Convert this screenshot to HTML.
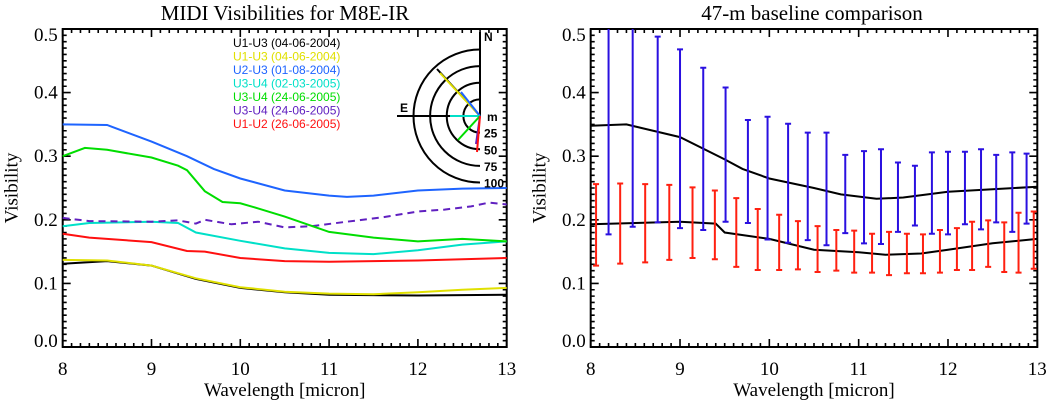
<!DOCTYPE html>
<html><head><meta charset="utf-8"><style>
html,body{margin:0;padding:0;background:#fff;}
svg{display:block;font-family:"Liberation Serif",serif;}
.lg{font-family:"Liberation Sans",sans-serif;font-size:12px;}
</style></head><body>
<svg id="c" width="1051" height="403" viewBox="0 0 1051 403" xmlns="http://www.w3.org/2000/svg">
<text x="285" y="20" font-size="21" text-anchor="middle">MIDI Visibilities for M8E-IR</text>
<text x="812" y="20" font-size="21" text-anchor="middle">47-m baseline comparison</text>
<g id="L"></g>
<g id="R"></g>
</svg>
<script>
// ---- Left panel data (wavelength in micron, visibility) ----
const blueW=[8,8.5,9,9.4,9.7,10,10.5,11,11.2,11.5,12,12.5,13];
const blueV=[0.35,0.349,0.323,0.3,0.28,0.265,0.246,0.238,0.236,0.238,0.246,0.249,0.25];
const greenW=[8,8.25,8.5,9,9.3,9.4,9.6,9.8,10,10.2,10.5,11,11.5,12,12.5,13];
const greenV=[0.30,0.313,0.31,0.298,0.285,0.278,0.245,0.228,0.226,0.218,0.205,0.181,0.172,0.166,0.17,0.166];
const purpW=[8,8.3,9,9.3,9.5,9.6,9.9,10.2,10.5,10.8,11.2,11.6,12,12.3,12.6,12.8,13];
const purpV=[0.203,0.198,0.197,0.199,0.194,0.2,0.193,0.197,0.188,0.19,0.197,0.204,0.213,0.216,0.221,0.227,0.224];
const cyanW=[8,8.3,9,9.3,9.5,10,10.5,11,11.5,12,12.5,13];
const cyanV=[0.19,0.195,0.197,0.195,0.18,0.167,0.155,0.148,0.146,0.152,0.161,0.166];
const redW=[8,8.3,9,9.4,9.6,10,10.5,11,12,13];
const redV=[0.178,0.172,0.165,0.151,0.15,0.14,0.135,0.134,0.136,0.14];
const yelW=[8,8.5,9,9.5,10,10.5,11,11.5,12,12.5,13];
const yelV=[0.137,0.136,0.128,0.108,0.094,0.087,0.084,0.083,0.086,0.09,0.093];
const blkW=[8,8.5,9,9.5,10,10.5,11,12,13];
const blkV=[0.131,0.135,0.128,0.107,0.093,0.086,0.082,0.081,0.082];
// ---- Right panel data ----
const upW=[8,8.4,9,9.5,9.7,10,10.5,10.8,11.2,11.5,12,12.5,13];
const upV=[0.348,0.35,0.33,0.295,0.28,0.265,0.25,0.24,0.233,0.235,0.244,0.248,0.252];
const loW=[8,9,9.4,9.5,10,10.5,11,11.3,11.7,12,12.5,13];
const loV=[0.193,0.197,0.194,0.18,0.17,0.153,0.149,0.145,0.147,0.153,0.163,0.17];
const ebBlueW=[8.2,8.47,8.75,9.0,9.26,9.51,9.76,9.98,10.21,10.43,10.64,10.85,11.06,11.25,11.44,11.63,11.82,12.0,12.19,12.37,12.54,12.72,12.88];
const ebBlueHi=[0.53,0.52,0.488,0.468,0.439,0.408,0.357,0.362,0.351,0.337,0.337,0.302,0.308,0.311,0.290,0.285,0.306,0.307,0.307,0.311,0.302,0.306,0.304];
const ebBlueLo=[0.177,0.189,0.196,0.187,0.184,0.197,0.195,0.169,0.164,0.168,0.160,0.179,0.163,0.162,0.181,0.191,0.178,0.177,0.193,0.185,0.196,0.181,0.194];
const ebRedW=[8.06,8.33,8.61,8.88,9.14,9.39,9.63,9.87,10.11,10.32,10.54,10.75,10.95,11.15,11.34,11.54,11.72,11.91,12.10,12.27,12.45,12.63,12.79,12.96];
const ebRedHi=[0.256,0.257,0.256,0.255,0.251,0.246,0.234,0.217,0.208,0.198,0.190,0.184,0.183,0.178,0.181,0.178,0.177,0.184,0.187,0.197,0.199,0.196,0.211,0.213];
const ebRedLo=[0.128,0.131,0.133,0.137,0.140,0.138,0.126,0.121,0.121,0.122,0.118,0.120,0.117,0.117,0.113,0.116,0.116,0.117,0.121,0.121,0.126,0.118,0.117,0.123];
const xTicks=["8","9","10","11","12","13"];
const yTicks=["0.0","0.1","0.2","0.3","0.4","0.5"];
const legendText=["U1-U3 (04-06-2004)","U1-U3 (04-06-2004)","U2-U3 (01-08-2004)","U3-U4 (02-03-2005)","U3-U4 (24-06-2005)","U3-U4 (24-06-2005)","U1-U2 (26-06-2005)"];
const legendColor=["#000","#e0e000","#1e64ff","#00e0c8","#00dd00","#6020c0","#ff1010"];
const ringLabels=["25","50","75","100"];

const NS="http://www.w3.org/2000/svg";
function mk(parent,tag,attrs){const e=document.createElementNS(NS,tag);for(const k in attrs)e.setAttribute(k,attrs[k]);parent.appendChild(e);return e;}
const Y0=347,Y1=29;
function axes(g,x0,x1){
  const sx=w=>x0+(w-8)/5*(x1-x0);
  const sy=v=>Y0-v/0.5*(Y0-Y1);
  let d="";
  for(let i=0;i<=50;i++){const x=sx(8+i*0.1);const L=i%10==0?8:4;d+=`M${x},${Y0}v${-L}M${x},${Y1}v${L}`;}
  for(let i=0;i<=50;i++){const y=sy(i*0.01);const L=i%10==0?8:4;d+=`M${x0},${y}h${L}M${x1},${y}h${-L}`;}
  const t=mk(g,"path",{d:d,stroke:"#000","stroke-width":1.6,fill:"none"});
  
  
  const b=mk(g,"rect",{x:x0,y:Y1,width:x1-x0,height:Y0-Y1,fill:"none",stroke:"#000","stroke-width":2});
  
  
  xTicks.forEach((s,i)=>{const e=mk(g,"text",{x:sx(+s),y:375,"font-size":19,"text-anchor":"middle"});e.textContent=s;
    
    });
  yTicks.forEach((s,i)=>{let y=sy(+s)+6;if(i==0)y=Y0;if(i==5)y=Y1+12;const e=mk(g,"text",{x:x0-5,y:y,"font-size":19,"text-anchor":"end"});e.textContent=s;
    
    });
  const xt=mk(g,"text",{x:(x0+x1)/2,y:396,"font-size":19,"text-anchor":"middle"});xt.textContent="Wavelength [micron]";
  
  
  const yt=mk(g,"text",{x:0,y:0,"font-size":19,"text-anchor":"middle",transform:`translate(${x0-45},188) rotate(-90)`});yt.textContent="Visibility";
  
  
  return [sx,sy];
}
function line(g,sx,sy,W,V,col,name,dash){
  const d=W.map((w,i)=>(i?"L":"M")+sx(w).toFixed(1)+","+sy(V[i]).toFixed(1)).join("");
  const p=mk(g,"path",{d:d,stroke:col,"stroke-width":2,fill:"none"});
  if(dash)p.setAttribute("stroke-dasharray",dash);
  
  
}
const L=document.getElementById("L"),R=document.getElementById("R");
let [sx,sy]=axes(L,62.7,506.7);
line(L,sx,sy,blkW,blkV,"#000","series-u1u3-black");
line(L,sx,sy,yelW,yelV,"#e0e000","series-u1u3-yellow");
line(L,sx,sy,redW,redV,"#ff1010","series-u1u2");
line(L,sx,sy,cyanW,cyanV,"#00e0c8","series-u3u4-cyan");
line(L,sx,sy,purpW,purpV,"#6020c0","series-u3u4-purple","7,5");
line(L,sx,sy,greenW,greenV,"#00dd00","series-u3u4-green");
line(L,sx,sy,blueW,blueV,"#1e64ff","series-u2u3");
legendText.forEach((s,i)=>{const e=mk(L,"text",{x:233,y:47+i*13.5,fill:legendColor[i],class:"lg"});e.textContent=s;
  
  });
// polar inset
const cx=480,cy=116,pr=0.665;
const pg=mk(L,"g",{});


ringLabels.forEach((s,i)=>{const r=(+s)*pr;
  const a=mk(pg,"path",{d:`M${cx},${cy-r}A${r},${r} 0 0 0 ${cx},${cy+r}`,stroke:"#000","stroke-width":2,fill:"none"});
  
  
  const t=mk(pg,"text",{x:cx+4,y:cy+r+5,class:"lg","font-weight":"bold"});t.textContent=s;
  
  });
mk(pg,"path",{d:`M${cx},${cy}V32M${cx},${cy}H397`,stroke:"#000","stroke-width":2,fill:"none"});
const tn=mk(pg,"text",{x:484,y:41,class:"lg","font-weight":"bold"});tn.textContent="N";


const te=mk(pg,"text",{x:400,y:112,class:"lg","font-weight":"bold"});te.textContent="E";


const tm=mk(pg,"text",{x:487,y:121,class:"lg","font-weight":"bold"});tm.textContent="m";


[[437,69,"#000"],[440,73,"#e0e000"],[461,92,"#1e64ff"],[450,116,"#00e0c8"],[458,140,"#00dd00"],[476,144,"#6020c0"],[477,152,"#ff1010"]].forEach(q=>{
  const l=mk(pg,"line",{x1:cx,y1:cy,x2:q[0],y2:q[1],stroke:q[2],"stroke-width":2});
  
  });
// right panel
[sx,sy]=axes(R,590.7,1037.3);
line(R,sx,sy,upW,upV,"#000","series-upper");
line(R,sx,sy,loW,loV,"#000","series-lower");
function errbars(W,H,Lo,col,name){
  W.forEach((w,i)=>{const x=sx(w),y1=Math.max(sy(H[i]),Y1),y2=sy(Lo[i]);
    let d=`M${x},${y1}V${y2}M${x-3},${y2}h6`;if(sy(H[i])>=Y1)d+=`M${x-3},${y1}h6`;
    const p=mk(R,"path",{d:d,stroke:col,"stroke-width":2,fill:"none"});
    
    });
}
errbars(ebBlueW,ebBlueHi,ebBlueLo,"#2a10e0","error-bar-blue");
errbars(ebRedW,ebRedHi,ebRedLo,"#ff2010","error-bar-red");
</script>
</body></html>
